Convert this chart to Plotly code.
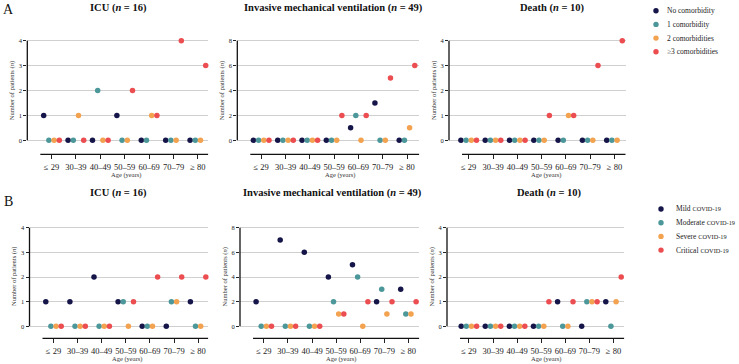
import plotly.graph_objects as go

# ---------------- data ----------------
age_groups = ["≤ 29", "30–39", "40–49", "50–59", "60–69", "70–79", "≥ 80"]

comorb_labels = ["No comorbidity", "1 comorbidity", "2 comorbidities", "≥3 comorbidities"]
severity_labels = ["Mild COVID-19", "Moderate COVID-19", "Severe COVID-19", "Critical COVID-19"]

# Panel A: by number of comorbidities
icu_no_comorb = [1, 0, 0, 1, 0, 0, 0]
icu_1_comorb = [0, 0, 2, 0, 0, 0, 0]
icu_2_comorb = [0, 1, 0, 0, 1, 0, 0]
icu_3_comorb = [0, 0, 0, 2, 1, 4, 3]

imv_no_comorb = [0, 0, 0, 0, 1, 3, 0]
imv_1_comorb = [0, 0, 0, 0, 2, 0, 0]
imv_2_comorb = [0, 0, 0, 0, 0, 0, 1]
imv_3_comorb = [0, 0, 0, 2, 2, 5, 6]

death_no_comorb = [0, 0, 0, 0, 0, 0, 0]
death_1_comorb = [0, 0, 0, 0, 0, 0, 0]
death_2_comorb = [0, 0, 0, 0, 1, 0, 0]
death_3_comorb = [0, 0, 0, 1, 1, 3, 4]

# Panel B: by COVID-19 severity
icu_mild = [1, 1, 2, 1, 0, 0, 1]
icu_moderate = [0, 0, 0, 1, 0, 1, 0]
icu_severe = [0, 0, 0, 0, 0, 1, 0]
icu_critical = [0, 0, 0, 1, 2, 2, 2]

imv_mild = [2, 7, 6, 4, 5, 2, 3]
imv_moderate = [0, 0, 0, 2, 4, 3, 1]
imv_severe = [0, 0, 0, 1, 0, 1, 1]
imv_critical = [0, 0, 0, 1, 2, 2, 2]

death_mild = [0, 0, 0, 0, 1, 0, 1]
death_moderate = [0, 0, 0, 0, 0, 1, 0]
death_severe = [0, 0, 0, 0, 0, 1, 1]
death_critical = [0, 0, 0, 1, 1, 1, 2]

panel_titles = ["<b>ICU (<i>n</i> = 16)</b>",
                "<b>Invasive mechanical ventilation (<i>n</i> = 49)</b>",
                "<b>Death (<i>n</i> = 10)</b>"]

# ---------------- style ----------------
colors = ["#15154a", "#4b9799", "#f3a24f", "#ec4d50"]
offsets = [-0.32, -0.107, 0.107, 0.32]
FONT = "Liberation Serif"
W, H = 739, 364

panels = [
    ([icu_no_comorb, icu_1_comorb, icu_2_comorb, icu_3_comorb], comorb_labels, 4, 1,
     dict(Lx=27.3, R=208.3, t0=51.5, s=24.4, ytop=40.7, y0=140.3, Bx=154.3, tx=118, ty=8, ax=126)),
    ([imv_no_comorb, imv_1_comorb, imv_2_comorb, imv_3_comorb], comorb_labels, 8, 2,
     dict(Lx=237.3, R=419.3, t0=261.2, s=24.3, ytop=40.7, y0=140.3, Bx=154.3, tx=333, ty=8, ax=340)),
    ([death_no_comorb, death_1_comorb, death_2_comorb, death_3_comorb], comorb_labels, 4, 1,
     dict(Lx=449.0, R=625.7, t0=468.7, s=24.3, ytop=40.7, y0=140.3, Bx=154.3, tx=552, ty=8, ax=546)),
    ([icu_mild, icu_moderate, icu_severe, icu_critical], severity_labels, 4, 1,
     dict(Lx=29.5, R=208.3, t0=53.5, s=24.1, ytop=227.7, y0=326.3, Bx=338.3, tx=118.5, ty=193, ax=127)),
    ([imv_mild, imv_moderate, imv_severe, imv_critical], severity_labels, 8, 2,
     dict(Lx=240.0, R=419.3, t0=263.8, s=24.1, ytop=227.7, y0=326.3, Bx=338.3, tx=332, ty=193, ax=341)),
    ([death_mild, death_moderate, death_severe, death_critical], severity_labels, 4, 1,
     dict(Lx=447.0, R=624.3, t0=468.9, s=24.1, ytop=227.7, y0=326.3, Bx=338.3, tx=549.5, ty=193, ax=546)),
]


def px_x(p):
    return p / W


def px_y(p):
    return 1 - p / H


fig = go.Figure()
layout = {}
shapes = []
annotations = []

for i, (series, labels, ymax, dtick, g) in enumerate(panels):
    n = i + 1
    xa = "x" if n == 1 else f"x{n}"
    ya = "y" if n == 1 else f"y{n}"
    xkey = "xaxis" if n == 1 else f"xaxis{n}"
    ykey = "yaxis" if n == 1 else f"yaxis{n}"

    u = (g["y0"] - g["ytop"]) / ymax
    ybot = -(g["Bx"] - g["y0"]) / u
    ytopv = ymax + 3 / u
    xl = (g["Lx"] - g["t0"]) / g["s"]
    xr = (g["R"] - g["t0"]) / g["s"]

    for k, vals in enumerate(series):
        fig.add_trace(go.Scatter(
            x=[j + offsets[k] for j in range(len(age_groups))],
            y=vals,
            mode="markers",
            name=labels[k],
            showlegend=False,
            cliponaxis=False,
            marker=dict(color=colors[k], size=5.5, line=dict(width=0)),
            xaxis=xa, yaxis=ya,
        ))

    layout[xkey] = dict(
        domain=[px_x(g["Lx"]), px_x(g["R"])],
        range=[xl, xr],
        anchor=ya,
        tickmode="array",
        tickvals=list(range(len(age_groups))),
        ticktext=age_groups,
        ticks="outside", ticklen=4, tickwidth=1, tickcolor="#222",
        showline=False, showgrid=False, zeroline=False,
        tickfont=dict(family=FONT, size=8.5, color="#222"),
        fixedrange=True,
    )
    layout[ykey] = dict(
        domain=[px_y(g["Bx"]), px_y(g["ytop"] - 3)],
        range=[ybot, ytopv],
        anchor=xa,
        tickmode="linear", tick0=0, dtick=dtick,
        ticks="outside", ticklen=3, tickwidth=1, tickcolor="#222",
        showline=False, zeroline=False,
        showgrid=True, gridcolor="#d0d0d0", gridwidth=1,
        tickfont=dict(family=FONT, size=6.5, color="#222"),
        fixedrange=True,
    )
    shapes.append(dict(type="line", xref=f"{xa} domain", yref=ya,
                       x0=0, x1=0, y0=0, y1=ymax,
                       line=dict(color="#111", width=1.3)))
    shapes.append(dict(type="line", xref=xa, yref=f"{ya} domain",
                       x0=(g["Lx"] + 13 - g["t0"]) / g["s"], x1=xr, y0=0, y1=0,
                       line=dict(color="#111", width=1.3)))
    annotations.append(dict(text=panel_titles[i % 3], xref="paper", yref="paper",
                            x=px_x(g["tx"]), y=px_y(g["ty"]), showarrow=False,
                            xanchor="center", yanchor="middle",
                            font=dict(family=FONT, size=10.5, color="#111")))
    annotations.append(dict(text="Number of patients (<i>n</i>)", xref="paper", yref="paper",
                            x=px_x(g["Lx"] - 15.5), y=px_y((g["y0"] + g["ytop"]) / 2),
                            textangle=-90, showarrow=False,
                            xanchor="center", yanchor="middle",
                            font=dict(family=FONT, size=6.5, color="#333")))
    annotations.append(dict(text="Age (years)", xref="paper", yref="paper",
                            x=px_x(g["ax"]), y=px_y(g["Bx"] + 21), showarrow=False,
                            xanchor="center", yanchor="middle",
                            font=dict(family=FONT, size=6.5, color="#333")))

for letter, (lx, ly) in zip(["A", "B"], [(8, 9), (8, 201)]):
    annotations.append(dict(text=letter, xref="paper", yref="paper",
                            x=px_x(lx), y=px_y(ly), showarrow=False,
                            xanchor="center", yanchor="middle",
                            font=dict(family=FONT, size=14, color="#111")))


def legend_text(label):
    # "COVID-19" is set slightly smaller, as in the reference
    if label.endswith("COVID-19"):
        head = label[: -len("COVID-19")]
        return head + "<span style='font-size:6.3px'>COVID-19</span>"
    return label


for labels, dot_x, text_x, y_start in [(comorb_labels, 656, 665, 10.7),
                                        (severity_labels, 661, 674, 209)]:
    for k, lab in enumerate(labels):
        yy = y_start + k * 13.7
        shapes.append(dict(type="circle", xref="paper", yref="paper",
                           xsizemode="pixel", ysizemode="pixel",
                           xanchor=px_x(dot_x), yanchor=px_y(yy),
                           x0=-2.7, x1=2.7, y0=-2.7, y1=2.7,
                           fillcolor=colors[k], line=dict(width=0)))
        annotations.append(dict(text=legend_text(lab), xref="paper", yref="paper",
                                x=px_x(text_x), y=px_y(yy), showarrow=False,
                                xanchor="left", yanchor="middle",
                                font=dict(family=FONT, size=7.5, color="#222")))

fig.update_layout(
    width=W, height=H,
    margin=dict(l=0, r=0, t=0, b=0),
    paper_bgcolor="white", plot_bgcolor="white",
    shapes=shapes, annotations=annotations,
    showlegend=False,
    **layout,
)

fig.write_html("out.html",
               config={"displayModeBar": False, "staticPlot": True},
               post_script="document.body.style.margin='0';document.body.style.overflow='hidden';")
